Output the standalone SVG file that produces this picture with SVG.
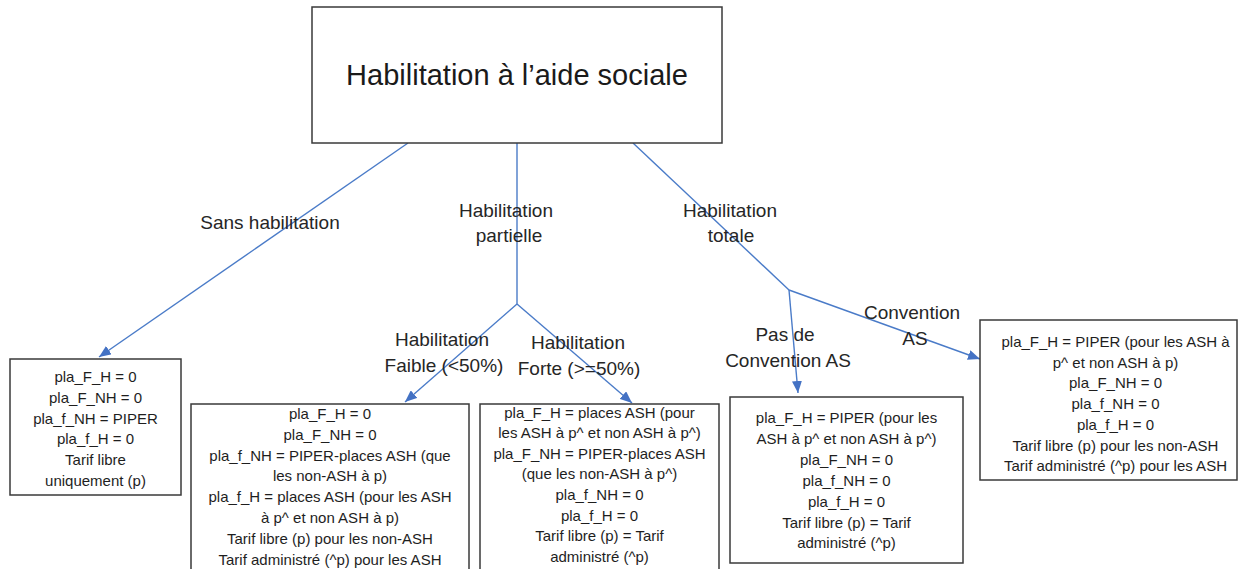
<svg xmlns="http://www.w3.org/2000/svg" width="1251" height="569" viewBox="0 0 1251 569">
<defs>
<style>
.box{fill:#ffffff;stroke:#3a3a3a;stroke-width:1.5}
.t{font-family:"Liberation Sans",Arial,sans-serif;font-size:15px;fill:#1e1e1e;text-anchor:middle}
.lbl{font-family:"Liberation Sans",Arial,sans-serif;font-size:19px;fill:#262626;text-anchor:middle}
.title{font-family:"Liberation Sans",Arial,sans-serif;font-size:29px;fill:#1a1a1a;text-anchor:middle}
.c{fill:none;stroke:#4A7BC8;stroke-width:1.4}
</style>
<marker id="ah" viewBox="0 0 12 10" refX="12" refY="5" markerWidth="12" markerHeight="10" markerUnits="userSpaceOnUse" orient="auto">
<path d="M0,0 L12,5 L0,10 Z" fill="#4472C4"/>
</marker>
</defs>
<rect width="1251" height="569" fill="#ffffff"/>

<g id="connectors">
<line class="c" x1="408" y1="143" x2="99" y2="357" marker-end="url(#ah)"/>
<polyline class="c" points="517,143 517,304"/>
<line class="c" x1="517" y1="304" x2="405" y2="402" marker-end="url(#ah)"/>
<line class="c" x1="517" y1="304" x2="632" y2="403" marker-end="url(#ah)"/>
<line class="c" x1="633" y1="143" x2="789" y2="290"/>
<line class="c" x1="789" y1="290" x2="798" y2="393" marker-end="url(#ah)"/>
<line class="c" x1="789" y1="290" x2="980" y2="359" marker-end="url(#ah)"/>
<text class="lbl" x="270" y="229">Sans habilitation</text>
<text class="lbl" x="506" y="217">Habilitation</text>
<text class="lbl" x="509" y="242">partielle</text>
<text class="lbl" x="730" y="217">Habilitation</text>
<text class="lbl" x="731" y="242">totale</text>
<text class="lbl" x="442" y="346">Habilitation</text>
<text class="lbl" x="444" y="372">Faible (&lt;50%)</text>
<text class="lbl" x="578" y="349">Habilitation</text>
<text class="lbl" x="579" y="375">Forte (&gt;=50%)</text>
<text class="lbl" x="785" y="341">Pas de</text>
<text class="lbl" x="788" y="367">Convention AS</text>
<text class="lbl" x="912" y="319">Convention</text>
<text class="lbl" x="915" y="345">AS</text>
</g>

<g id="root">
<rect class="box" x="312" y="7" width="410" height="136"/>
<text class="title" x="517" y="85">Habilitation à l’aide sociale</text>
</g>

<g id="sans">
<rect class="box" x="10" y="359" width="171" height="136"/>
<text class="t" x="95.5" y="382">pla_F_H = 0</text>
<text class="t" x="95.5" y="402.8">pla_F_NH = 0</text>
<text class="t" x="95.5" y="423.6">pla_f_NH = PIPER</text>
<text class="t" x="95.5" y="444.4">pla_f_H = 0</text>
<text class="t" x="95.5" y="465.2">Tarif libre</text>
<text class="t" x="95.5" y="486">uniquement (p)</text>
</g>

<g id="faible">
<rect class="box" x="191" y="404" width="278" height="172"/>
<text class="t" x="330" y="419">pla_F_H = 0</text>
<text class="t" x="330" y="439.8">pla_F_NH = 0</text>
<text class="t" x="330" y="460.6">pla_f_NH = PIPER-places ASH (que</text>
<text class="t" x="330" y="481.4">les non-ASH à p)</text>
<text class="t" x="330" y="502.2">pla_f_H = places ASH (pour les ASH</text>
<text class="t" x="330" y="523">à p^ et non ASH à p)</text>
<text class="t" x="330" y="543.8">Tarif libre (p) pour les non-ASH</text>
<text class="t" x="330" y="564.6">Tarif administré (^p) pour les ASH</text>
</g>

<g id="forte">
<rect class="box" x="480" y="404" width="239" height="172"/>
<text class="t" x="599.5" y="417.5">pla_F_H = places ASH (pour</text>
<text class="t" x="599.5" y="438.1">les ASH à p^ et non ASH à p^)</text>
<text class="t" x="599.5" y="458.7">pla_F_NH = PIPER-places ASH</text>
<text class="t" x="599.5" y="479.3">(que les non-ASH à p^)</text>
<text class="t" x="599.5" y="499.9">pla_f_NH = 0</text>
<text class="t" x="599.5" y="520.5">pla_f_H = 0</text>
<text class="t" x="599.5" y="541.1">Tarif libre (p) = Tarif</text>
<text class="t" x="599.5" y="561.7">administré (^p)</text>
</g>

<g id="pasconvention">
<rect class="box" x="730" y="397" width="233" height="166"/>
<text class="t" x="846.5" y="423">pla_F_H = PIPER (pour les</text>
<text class="t" x="846.5" y="443.9">ASH à p^ et non ASH à p^)</text>
<text class="t" x="846.5" y="464.8">pla_F_NH = 0</text>
<text class="t" x="846.5" y="485.7">pla_f_NH = 0</text>
<text class="t" x="846.5" y="506.6">pla_f_H = 0</text>
<text class="t" x="846.5" y="527.5">Tarif libre (p) = Tarif</text>
<text class="t" x="846.5" y="548.4">administré (^p)</text>
</g>

<g id="convention">
<rect class="box" x="980" y="320" width="257" height="160"/>
<text class="t" x="1115.5" y="347">pla_F_H = PIPER (pour les ASH à</text>
<text class="t" x="1115.5" y="367.7">p^ et non ASH à p)</text>
<text class="t" x="1115.5" y="388.4">pla_F_NH = 0</text>
<text class="t" x="1115.5" y="409.1">pla_f_NH = 0</text>
<text class="t" x="1115.5" y="429.8">pla_f_H = 0</text>
<text class="t" x="1115.5" y="450.5">Tarif libre (p) pour les non-ASH</text>
<text class="t" x="1115.5" y="471.2">Tarif administré (^p) pour les ASH</text>
</g>
</svg>
